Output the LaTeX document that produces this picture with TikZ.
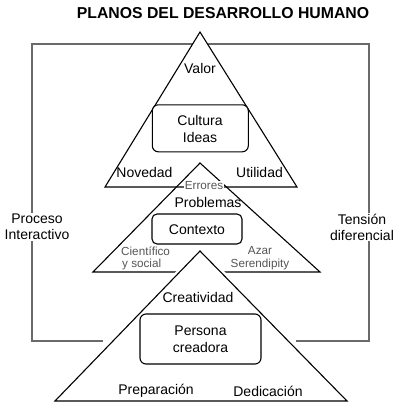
\documentclass[tikz,border=0pt]{standalone}
\usepackage{fontspec}
\setmainfont{Liberation Sans}
\definecolor{framegray}{HTML}{6A6A6A}
\definecolor{softgray}{HTML}{555555}
\begin{document}
\begin{tikzpicture}[x=1pt,y=-1pt,
  txt/.style={inner sep=0pt,font=\fontsize{14}{16.5}\selectfont,align=center},
  small/.style={inner sep=0pt,font=\fontsize{11.7}{13.5}\selectfont,text=softgray,align=center},
  side/.style={inner sep=1pt,fill=white,font=\fontsize{14}{16}\selectfont,align=center},
  tri/.style={draw=black,line width=1.1pt,fill=white,line join=miter},
  halo/.style={draw=white,line width=6pt,fill=white},
  rbox/.style={draw=black,line width=1.1pt,rounded corners=6pt,fill=white},
  frame/.style={draw=framegray,line width=1.1pt}]
\useasboundingbox (0,0) rectangle (400,408);
% title
\node[inner sep=0pt,font=\fontsize{15.8}{18}\selectfont\bfseries] (title) at (223,13) {PLANOS DEL DESARROLLO HUMANO};
% frame
\coordinate (fl) at (103,341);
\coordinate (fbl) at (32,341);
\coordinate (ftl) at (32,44);
\coordinate (ftr) at (369,44);
\coordinate (fbr) at (369,341);
\coordinate (fr) at (296,341);
\draw[frame] (fl) -- (fbl) -- (ftl) -- (ftr) -- (fbr) -- (fr);
\node[side] (proc) at (37,227) {Proceso\\Interactivo};
\node[side] (tens) at (362,227) {Tensión\\diferencial};
% top triangle
\coordinate (t1a) at (200,32);
\coordinate (t1l) at (105,187);
\coordinate (t1r) at (297,187);
\path[tri] (t1a) -- (t1l) -- (t1r) -- cycle;
\node[txt] (valor) at (200,68) {Valor};
\node[rbox,minimum width=96pt,minimum height=47pt,inner sep=0pt] (cult) at (200.3,128.3) {};
\node[txt] (cultura) at (200,120) {Cultura};
\node[txt] (ideas) at (200,137) {Ideas};
\node[txt] (noved) at (144.5,172) {Novedad};
\node[txt] (util) at (259.5,172) {Utilidad};
% middle triangle
\coordinate (t2a) at (200,163);
\coordinate (t2l) at (93,272);
\coordinate (t2r) at (320,272);
\draw[black,line width=1.1pt] (t2a) -- (t2l) -- (t2r) -- cycle;
\node[small,fill=white,inner sep=1pt] (err) at (204,186) {Errores};
\node[txt] (prob) at (208,202) {Problemas};
\node[rbox,minimum width=90pt,minimum height=30pt,inner sep=0pt,rounded corners=5pt] (ctxbox) at (197,229) {};
\node[txt] (ctx) at (197,229.5) {Contexto};
\node[small,anchor=west] (cien) at (121,251) {Científico};
\node[small,anchor=west] (ysoc) at (122,264) {y social};
\node[small] (azar) at (260,251) {Azar};
\node[small] (seren) at (260,264) {Serendipity};
% bottom triangle
\coordinate (t3a) at (200,251);
\coordinate (t3l) at (55,401);
\coordinate (t3r) at (347,401);
\path[halo] (t3a) -- (t3l) -- (t3r) -- cycle;
\path[tri] (t3a) -- (t3l) -- (t3r) -- cycle;
\node[txt] (crea) at (198,297) {Creatividad};
\node[rbox,minimum width=121pt,minimum height=50pt,inner sep=0pt] (perbox) at (200.5,339) {};
\node[txt] (pers) at (200.5,331) {Persona};
\node[txt] (creadora) at (200.5,347) {creadora};
\node[txt] (prep) at (156,391) {Preparación};
\node[txt] (dedi) at (268,391) {Dedicación};
\end{tikzpicture}
\end{document}
